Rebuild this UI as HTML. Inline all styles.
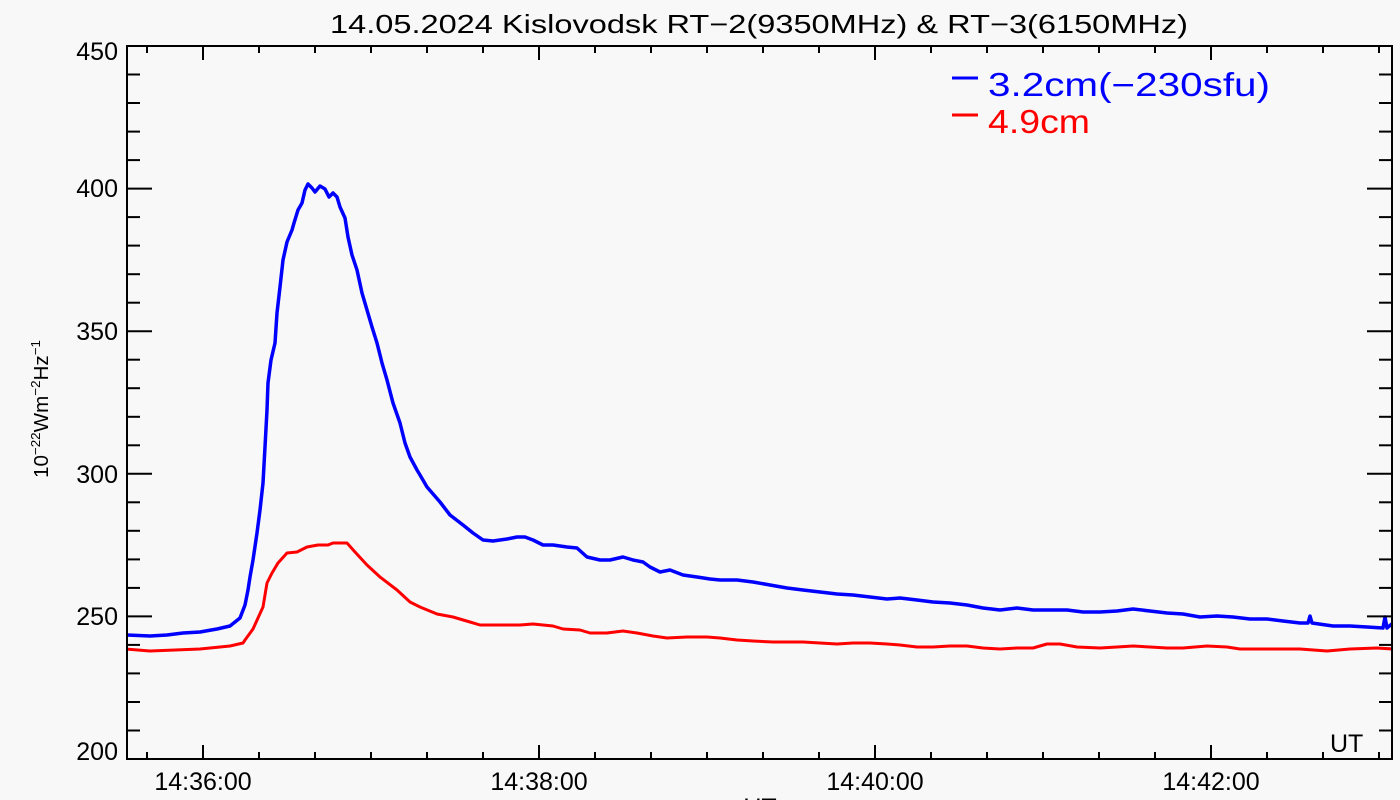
<!DOCTYPE html>
<html>
<head>
<meta charset="utf-8">
<style>
html,body{margin:0;padding:0;background:#f8f8f8;}
svg{display:block;}
text{font-family:"Liberation Sans",sans-serif;fill:#000;}
</style>
</head>
<body>
<svg width="1400" height="800" viewBox="0 0 1400 800" xmlns="http://www.w3.org/2000/svg">
<rect x="0" y="0" width="1400" height="800" fill="#f8f8f8"/>
<defs>
<clipPath id="pa"><rect x="127" y="46" width="1265" height="713"/></clipPath>
</defs>

<!-- Title -->
<text x="330" y="33" font-size="26" textLength="858" lengthAdjust="spacingAndGlyphs">14.05.2024 Kislovodsk RT−2(9350MHz) &amp; RT−3(6150MHz)</text>

<!-- Data -->
<g clip-path="url(#pa)" fill="none" stroke-linejoin="round">
<polyline stroke="#0000ff" stroke-width="3.5" points="126,635 150,636 167,635 183,633 200,632 217,629 230,626 240,618 245,605 248,590 250,577 253,560 257,533 260,510 263,483 265,447 267,410 268,383 271,360 275,343 277,313 280,287 283,260 287,242 292,230 294,223 298,210 302,203 305,190 308,184 312,188 315,192 320,186 325,189 329,197 333,193 337,197 340,207 345,218 348,237 352,255 357,270 362,293 367,310 372,327 377,343 382,363 387,380 393,403 400,423 405,443 410,457 417,470 420,475 427,487 440,502 450,515 463,525 473,533 483,540 493,541 507,539 517,537 525,537 533,540 543,545 553,545 567,547 577,548 587,557 600,560 610,560 623,557 633,560 643,562 650,567 660,572 670,570 683,575 697,577 710,579 720,580 737,580 753,582 770,585 787,588 803,590 820,592 837,594 853,595 870,597 887,599 900,598 917,600 933,602 950,603 967,605 983,608 1000,610 1017,608 1033,610 1050,610 1067,610 1083,612 1100,612 1117,611 1133,609 1150,611 1167,613 1183,614 1200,617 1217,616 1233,617 1250,619 1267,619 1283,621 1300,623 1308,623 1310,616 1312,623 1333,626 1350,626 1367,627 1383,628 1385,617 1387,628 1393,623"/>
<polyline stroke="#ff0000" stroke-width="3" points="126,649 150,651 175,650 200,649 230,646 243,643 245,640 253,629 263,607 267,583 272,573 278,563 287,553 297,552 307,547 318,545 328,545 333,543 347,543 355,552 367,565 380,577 397,590 410,602 420,607 437,614 453,617 470,622 480,625 500,625 520,625 533,624 553,626 563,629 580,630 590,633 607,633 623,631 637,633 653,636 667,638 687,637 707,637 720,638 737,640 753,641 773,642 787,642 803,642 820,643 837,644 853,643 870,643 887,644 900,645 917,647 933,647 950,646 967,646 983,648 1000,649 1017,648 1033,648 1047,644 1060,644 1077,647 1100,648 1117,647 1133,646 1150,647 1167,648 1183,648 1207,646 1227,647 1240,649 1267,649 1300,649 1327,651 1350,649 1377,648 1393,649"/>
</g>

<!-- Axes box -->
<g fill="#000">
<rect x="126" y="45" width="2" height="715"/>
<rect x="1391" y="45" width="2" height="715"/>
<rect x="126" y="45" width="1267" height="2"/>
<rect x="126" y="758" width="1267" height="2"/>
</g>

<!-- Y ticks (left & right) -->
<g stroke="#000" stroke-width="2">
<line x1="127" y1="188.6" x2="152" y2="188.6"/><line x1="1392" y1="188.6" x2="1367" y2="188.6"/>
<line x1="127" y1="331.2" x2="152" y2="331.2"/><line x1="1392" y1="331.2" x2="1367" y2="331.2"/>
<line x1="127" y1="473.8" x2="152" y2="473.8"/><line x1="1392" y1="473.8" x2="1367" y2="473.8"/>
<line x1="127" y1="616.4" x2="152" y2="616.4"/><line x1="1392" y1="616.4" x2="1367" y2="616.4"/>
<line x1="127" y1="74.5" x2="140" y2="74.5"/><line x1="1392" y1="74.5" x2="1379" y2="74.5"/>
<line x1="127" y1="103" x2="140" y2="103"/><line x1="1392" y1="103" x2="1379" y2="103"/>
<line x1="127" y1="131.6" x2="140" y2="131.6"/><line x1="1392" y1="131.6" x2="1379" y2="131.6"/>
<line x1="127" y1="160.1" x2="140" y2="160.1"/><line x1="1392" y1="160.1" x2="1379" y2="160.1"/>
<line x1="127" y1="217.1" x2="140" y2="217.1"/><line x1="1392" y1="217.1" x2="1379" y2="217.1"/>
<line x1="127" y1="245.6" x2="140" y2="245.6"/><line x1="1392" y1="245.6" x2="1379" y2="245.6"/>
<line x1="127" y1="274.2" x2="140" y2="274.2"/><line x1="1392" y1="274.2" x2="1379" y2="274.2"/>
<line x1="127" y1="302.7" x2="140" y2="302.7"/><line x1="1392" y1="302.7" x2="1379" y2="302.7"/>
<line x1="127" y1="359.7" x2="140" y2="359.7"/><line x1="1392" y1="359.7" x2="1379" y2="359.7"/>
<line x1="127" y1="388.2" x2="140" y2="388.2"/><line x1="1392" y1="388.2" x2="1379" y2="388.2"/>
<line x1="127" y1="416.8" x2="140" y2="416.8"/><line x1="1392" y1="416.8" x2="1379" y2="416.8"/>
<line x1="127" y1="445.3" x2="140" y2="445.3"/><line x1="1392" y1="445.3" x2="1379" y2="445.3"/>
<line x1="127" y1="502.3" x2="140" y2="502.3"/><line x1="1392" y1="502.3" x2="1379" y2="502.3"/>
<line x1="127" y1="530.8" x2="140" y2="530.8"/><line x1="1392" y1="530.8" x2="1379" y2="530.8"/>
<line x1="127" y1="559.4" x2="140" y2="559.4"/><line x1="1392" y1="559.4" x2="1379" y2="559.4"/>
<line x1="127" y1="587.9" x2="140" y2="587.9"/><line x1="1392" y1="587.9" x2="1379" y2="587.9"/>
<line x1="127" y1="644.9" x2="140" y2="644.9"/><line x1="1392" y1="644.9" x2="1379" y2="644.9"/>
<line x1="127" y1="673.4" x2="140" y2="673.4"/><line x1="1392" y1="673.4" x2="1379" y2="673.4"/>
<line x1="127" y1="702" x2="140" y2="702"/><line x1="1392" y1="702" x2="1379" y2="702"/>
<line x1="127" y1="730.5" x2="140" y2="730.5"/><line x1="1392" y1="730.5" x2="1379" y2="730.5"/>
</g>

<!-- X ticks (bottom & top) -->
<g stroke="#000" stroke-width="2">
<line x1="203" y1="759" x2="203" y2="745"/><line x1="203" y1="46" x2="203" y2="60"/>
<line x1="539" y1="759" x2="539" y2="745"/><line x1="539" y1="46" x2="539" y2="60"/>
<line x1="875" y1="759" x2="875" y2="745"/><line x1="875" y1="46" x2="875" y2="60"/>
<line x1="1211" y1="759" x2="1211" y2="745"/><line x1="1211" y1="46" x2="1211" y2="60"/>
</g>
<g stroke="#000" stroke-width="2">
<line x1="147" y1="759" x2="147" y2="752"/><line x1="147" y1="46" x2="147" y2="53"/>
<line x1="259" y1="759" x2="259" y2="752"/><line x1="259" y1="46" x2="259" y2="53"/>
<line x1="315" y1="759" x2="315" y2="752"/><line x1="315" y1="46" x2="315" y2="53"/>
<line x1="371" y1="759" x2="371" y2="752"/><line x1="371" y1="46" x2="371" y2="53"/>
<line x1="427" y1="759" x2="427" y2="752"/><line x1="427" y1="46" x2="427" y2="53"/>
<line x1="483" y1="759" x2="483" y2="752"/><line x1="483" y1="46" x2="483" y2="53"/>
<line x1="595" y1="759" x2="595" y2="752"/><line x1="595" y1="46" x2="595" y2="53"/>
<line x1="651" y1="759" x2="651" y2="752"/><line x1="651" y1="46" x2="651" y2="53"/>
<line x1="707" y1="759" x2="707" y2="752"/><line x1="707" y1="46" x2="707" y2="53"/>
<line x1="763" y1="759" x2="763" y2="752"/><line x1="763" y1="46" x2="763" y2="53"/>
<line x1="819" y1="759" x2="819" y2="752"/><line x1="819" y1="46" x2="819" y2="53"/>
<line x1="931" y1="759" x2="931" y2="752"/><line x1="931" y1="46" x2="931" y2="53"/>
<line x1="987" y1="759" x2="987" y2="752"/><line x1="987" y1="46" x2="987" y2="53"/>
<line x1="1043" y1="759" x2="1043" y2="752"/><line x1="1043" y1="46" x2="1043" y2="53"/>
<line x1="1099" y1="759" x2="1099" y2="752"/><line x1="1099" y1="46" x2="1099" y2="53"/>
<line x1="1155" y1="759" x2="1155" y2="752"/><line x1="1155" y1="46" x2="1155" y2="53"/>
<line x1="1267" y1="759" x2="1267" y2="752"/><line x1="1267" y1="46" x2="1267" y2="53"/>
<line x1="1323" y1="759" x2="1323" y2="752"/><line x1="1323" y1="46" x2="1323" y2="53"/>
<line x1="1379" y1="759" x2="1379" y2="752"/><line x1="1379" y1="46" x2="1379" y2="53"/>
</g>

<!-- Y tick labels -->
<g font-size="25" text-anchor="end">
<text x="118" y="60">450</text>
<text x="118" y="197">400</text>
<text x="118" y="340">350</text>
<text x="118" y="483">300</text>
<text x="118" y="625">250</text>
<text x="118" y="760">200</text>
</g>

<!-- X tick labels -->
<g font-size="25" text-anchor="middle">
<text x="203" y="790">14:36:00</text>
<text x="539" y="790">14:38:00</text>
<text x="875" y="790">14:40:00</text>
<text x="1211" y="790">14:42:00</text>
</g>

<!-- UT labels -->
<text x="1330" y="752" font-size="25">UT</text>
<text x="760" y="816" font-size="25" text-anchor="middle">UT</text>

<!-- Y axis title -->
<text transform="translate(48,478) rotate(-90)" font-size="20" textLength="138" lengthAdjust="spacingAndGlyphs">10<tspan font-size="13" dy="-8">−22</tspan><tspan dy="8">Wm</tspan><tspan font-size="13" dy="-8">−2</tspan><tspan dy="8">Hz</tspan><tspan font-size="13" dy="-8">−1</tspan></text>

<!-- Legend -->
<line x1="952" y1="78" x2="978" y2="78" stroke="#0000ff" stroke-width="3"/>
<text x="988" y="96" font-size="33" fill="#0000ff" style="fill:#0000ff" textLength="282" lengthAdjust="spacingAndGlyphs">3.2cm(−230sfu)</text>
<line x1="952" y1="115" x2="978" y2="115" stroke="#ff0000" stroke-width="3"/>
<text x="988" y="133" font-size="33" fill="#ff0000" style="fill:#ff0000" textLength="102" lengthAdjust="spacingAndGlyphs">4.9cm</text>
</svg>
</body>
</html>
